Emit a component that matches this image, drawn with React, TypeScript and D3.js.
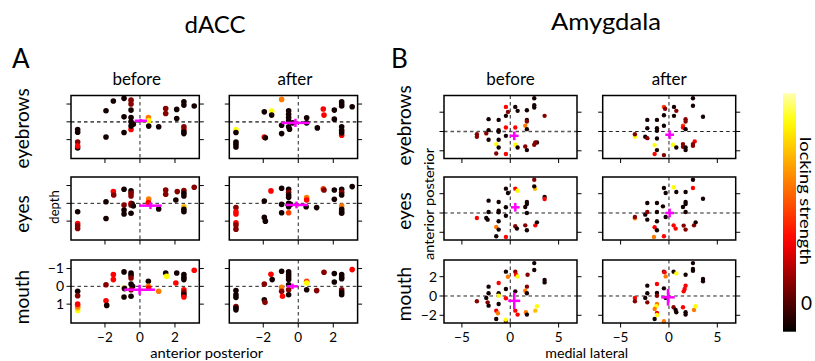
import React from "react";
import * as d3 from "d3";

type Pt = [number, number, number];
type Cross = [number, number, number, number];

// locking strength levels
const K = 0.03, D = 0.2, R = 0.38, OR = 0.5, O = 0.62, YO = 0.75, Y = 0.88;

const ROWS = ["eyebrows", "eyes", "mouth"];
const CONDITIONS = ["before", "after"];

// dACC: [anterior-posterior, depth, strength]
const dacc_eyebrows_before: Pt[] = [
  [-3.56, 0.43, K], [-3.56, 0.58, K], [-3.56, 1.13, D], [-3.56, 1.47, K], [-3.56, 1.36, R],
  [-1.94, -0.62, K], [-1.94, 0.85, K], [-1.52, -1.17, K],
  [-0.91, -1.32, K], [-0.91, -0.28, K], [-0.91, 0.6, K],
  [-0.51, 0.43, R], [-0.51, -1.22, D], [-0.51, -1.0, D], [-0.51, -0.66, K], [-0.51, -0.24, K],
  [-0.51, 0, K], [-0.51, 0.24, K], [-0.38, 0.13, K],
  [0.48, -0.24, O], [0.5, -0.06, Y], [0.5, 0.24, K], [1.07, 0.28, K],
  [1.47, -0.75, D], [1.47, -0.47, D], [2.1, -0.7, K], [2.1, -0.19, K],
  [2.51, -1.13, K], [2.51, -0.94, K], [2.51, 0.43, R], [2.51, 0.28, D], [2.51, 0.56, K], [2.51, 0.66, K],
  [3.1, -0.89, K],
];
const dacc_eyebrows_after: Pt[] = [
  [-3.56, 0.45, Y], [-3.56, 0.6, K], [-3.56, 1.13, K], [-3.56, 1.26, K], [-3.56, 1.41, K],
  [-1.94, -0.56, K], [-1.94, 0.85, R], [-1.88, 0.9, K],
  [-1.52, -0.6, Y], [-1.52, -0.38, K],
  [-0.95, -1.26, O], [-0.95, 0.19, K], [-0.95, 0.66, K],
  [-0.55, -0.62, K], [-0.55, -0.43, K], [-0.55, -0.24, K], [-0.55, -0.06, K], [-0.55, 0.28, K],
  [-0.5, 0.41, K], [-0.32, 0.06, K],
  [0.48, -0.23, K], [0.48, 0.06, K], [1.09, 0.34, K],
  [1.43, -0.72, R], [1.47, -0.38, R],
  [2.06, -0.66, K], [2.06, -0.15, K],
  [2.48, -1.13, K], [2.48, -1.0, K], [2.48, -0.89, K],
  [2.48, 0.75, R], [2.48, 0.28, K], [2.48, 0.47, K], [2.48, 0.62, K],
  [3.08, -0.85, K],
];
const dacc_eyes_before: Pt[] = [
  [-3.56, 0.47, K], [-3.56, 1.13, R], [-3.56, 1.26, D], [-3.56, 1.41, D],
  [-1.94, -0.09, K], [-1.94, 0.85, K],
  [-1.52, -0.66, R], [-1.5, -0.47, D],
  [-0.91, -0.79, K], [-0.91, 0.09, D], [-0.91, 0.38, K], [-0.91, 0.6, K],
  [-0.51, -0.7, K], [-0.51, -0.56, D], [-0.51, -0.41, D], [-0.51, 0, R], [-0.45, 0.02, K],
  [-0.51, 0.09, D], [-0.38, 0.15, K], [-0.51, 0.56, K],
  [0.5, -0.24, O], [0.48, -0.04, R],
  [1.07, 0.32, K],
  [1.47, -0.75, D], [1.47, -0.51, D],
  [2.13, -0.66, D], [2.05, -0.19, K],
  [2.51, -0.72, D], [2.51, -0.56, K], [2.51, -0.41, K],
  [2.51, 0.19, YO], [2.51, 0.34, K], [2.51, 0.47, K],
  [3.1, -0.9, D],
];
const dacc_eyes_after: Pt[] = [
  [-3.56, 0.23, D], [-3.56, 0.47, R], [-3.56, 0.6, R],
  [-3.56, 1.09, R], [-3.56, 1.22, D], [-3.56, 1.45, D],
  [-1.94, -0.13, K], [-1.94, 0.79, K], [-1.88, 1.0, K],
  [-1.56, -0.7, R],
  [-0.95, -0.85, K], [-0.95, 0.06, K], [-0.95, 0.53, K],
  [-0.55, -0.79, K], [-0.55, -0.62, D], [-0.55, -0.47, K], [-0.55, -0.34, K], [-0.55, 0, K],
  [-0.44, 0.06, K], [-0.55, 0.19, K], [-0.55, 0.53, OR],
  [0.48, -0.32, O], [0.48, -0.19, R], [0.45, 0.19, K],
  [1.05, 0.24, K],
  [1.43, -0.81, OR], [1.47, -0.75, D],
  [2.06, -0.75, K], [2.06, -0.23, K],
  [2.48, -0.79, K], [2.48, -0.62, D], [2.48, -0.47, K],
  [2.48, 0.15, O], [2.48, 0.34, K], [2.48, 0.47, K], [2.48, 0.56, K],
  [3.08, -0.94, K],
];
const dacc_mouth_before: Pt[] = [
  [-3.56, 0.28, K], [-3.56, 0.53, D],
  [-3.56, 1.36, Y], [-3.56, 1.22, YO], [-3.56, 1.13, O], [-3.56, 1.0, R],
  [-1.94, -0.09, D], [-1.94, 0.81, R], [-1.9, 1.07, K],
  [-1.52, -0.66, R], [-1.52, -0.38, R],
  [-0.91, -0.81, K], [-0.91, 0.09, YO], [-0.88, 0.13, K], [-0.91, 0.6, K],
  [-0.51, -0.75, K], [-0.51, -0.62, K], [-0.51, -0.47, D], [-0.51, -0.13, K], [-0.42, 0, K],
  [-0.51, 0.19, D], [-0.51, 0.56, K],
  [0.48, -0.28, K], [0.48, 0, O], [0.5, 0.09, R],
  [1.07, 0.28, O],
  [1.47, -0.75, K], [1.52, -0.56, Y],
  [2.1, -0.75, K], [2.05, -0.19, R],
  [2.51, -0.66, K], [2.51, -0.51, K], [2.51, -0.38, K],
  [2.51, 0.19, R], [2.51, 0.34, D], [2.51, 0.47, K], [2.51, 0.6, R],
  [3.1, -0.9, R],
];
const dacc_mouth_after: Pt[] = [
  [-3.56, 0.24, K], [-3.56, 0.47, K], [-3.56, 0.62, K],
  [-3.56, 1.13, D], [-3.56, 1.22, K], [-3.56, 1.32, K],
  [-1.94, -0.13, D], [-1.94, 0.75, K], [-1.9, 0.9, D],
  [-1.56, -0.68, R], [-1.49, -0.38, K],
  [-0.95, -0.85, K], [-0.95, 0.06, O], [-0.95, 0.28, D], [-0.9, 0.56, R],
  [-0.55, -0.81, K], [-0.55, -0.66, K], [-0.55, -0.53, K], [-0.55, -0.38, K], [-0.55, -0.09, K],
  [-0.55, 0.19, D], [-0.55, 0.47, K],
  [0.48, -0.28, OR], [0.48, -0.19, Y], [0.48, 0.19, K],
  [1.05, 0.24, D],
  [1.47, -0.79, D],
  [2.06, -0.72, K], [2.06, -0.24, K],
  [2.48, -0.66, K], [2.48, -0.53, K], [2.48, -0.43, K],
  [2.48, 0.19, D], [2.48, 0.34, K], [2.48, 0.47, K],
  [3.08, -0.94, R],
];

// Amygdala: [medial-lateral, anterior-posterior, strength]
const amyg_eyebrows_before: Pt[] = [
  [-3.45, -0.28, D], [-3.45, -0.55, D], [-2.48, -0.2, D],
  [-2.24, 1.28, K], [-2.24, 0.14, K], [-2.24, -0.86, K],
  [-1.2, 1.2, K], [-1.2, 0.14, K], [-1.2, -0.03, K], [-1.2, -0.86, K],
  [-1.45, -1.31, Y], [-1.2, -1.66, K], [-1.45, -2.28, D],
  [-0.45, 2.55, R], [-0.24, 2.03, D],
  [-0.45, 1.62, K], [-0.45, 0.41, R], [-0.45, -0.45, K], [-0.45, -2.34, R],
  [0.52, 2.55, K], [0.76, 2.14, K], [0.52, 0.41, R],
  [0.52, -1.38, Y], [0.76, -1.66, K],
  [1.72, 2.2, K], [1.72, 1.2, K], [1.72, 1.03, D],
  [1.55, 0.59, O], [1.72, 0.24, K],
  [1.55, -1.55, D], [1.72, -1.93, K],
  [2.48, 3.45, K], [2.48, 2.72, K], [2.48, 2.48, K],
  [2.76, -1.14, K], [2.59, -1.14, D], [2.48, -1.38, D],
  [3.55, 1.62, D],
];
const amyg_eyebrows_after: Pt[] = [
  [-3.52, -0.55, Y], [-3.52, -0.28, D],
  [-2.45, -0.55, K], [-2.24, -0.69, D],
  [-2.24, 1.2, K], [-2.24, 0.34, K],
  [-1.24, 1.2, K], [-1.24, 0.34, K], [-1.24, 0.07, K], [-1.24, -0.72, K],
  [-1.48, -1.41, Y], [-1.24, -1.93, K], [-1.48, -2.34, R], [-0.52, -2.45, D],
  [-0.52, 2.55, OR], [-0.4, 2.35, D],
  [-0.52, 1.69, K], [-0.52, 0.59, K],
  [0.52, 2.55, K], [0.76, 2.14, D], [0.52, 1.62, K],
  [0.41, -1.38, Y], [0.76, -1.66, K],
  [1.72, 1.28, D], [1.72, 1.03, D],
  [1.45, 0.59, OR], [1.45, 0.41, R], [1.72, 0.24, K],
  [1.45, -1.31, D], [1.45, -1.59, D],
  [1.72, -1.66, K], [1.72, -1.93, K],
  [2.48, 3.45, K], [2.48, 2.66, K],
  [2.66, -1.03, R], [2.48, -1.31, D], [2.48, -1.48, D],
  [3.52, 1.52, K],
];
const amyg_eyes_before: Pt[] = [
  [-3.45, -0.52, R],
  [-2.48, -0.52, K], [-2.34, -0.69, K],
  [-2.24, 1.28, K], [-2.24, 0.1, K],
  [-1.2, 1.14, K], [-1.2, 0.24, K], [-1.2, 0.07, K], [-1.2, -0.86, K],
  [-1.45, -1.45, O], [-1.2, -1.72, K], [-1.45, -2.41, K],
  [-0.45, 2.52, K], [-0.24, 2.07, K],
  [-0.45, 0.59, K], [-0.45, -0.28, K], [-0.45, -2.48, R],
  [0.52, 2.52, R], [0.76, 2.31, Y],
  [0.52, -1.38, D], [0.69, -1.62, K],
  [1.72, 1.14, K], [1.72, 0.93, K],
  [1.55, 0.62, K], [1.72, 0, K],
  [1.55, -1.28, D], [1.72, -1.79, K],
  [2.55, 2.5, YO], [2.48, 3.45, D], [2.48, 2.76, K],
  [2.59, -1.28, R], [2.76, -0.97, K],
  [3.55, 1.66, K], [3.55, 1.45, R],
];
const amyg_eyes_after: Pt[] = [
  [-3.52, -0.55, O], [-3.52, -0.41, D],
  [-2.45, -0.17, K], [-2.24, 0.1, D], [-2.24, -0.69, K],
  [-2.24, 1.03, K],
  [-1.24, 1.03, K], [-1.24, 0.1, K], [-1.24, -0.86, K],
  [-1.48, -1.48, R], [-1.24, -1.79, K],
  [-1.55, -2.48, O], [-0.52, -2.41, R],
  [-0.52, 2.59, K], [-0.34, 2.07, K],
  [-0.62, 0.69, K], [-0.34, -0.41, K],
  [0.48, 2.66, Y], [0.76, 2.17, K],
  [0.48, -1.28, R], [0.69, -1.62, R],
  [1.72, 2.17, K], [1.72, 1.14, K], [1.72, 0.93, K],
  [1.45, 0.62, K], [1.72, 0.1, K],
  [1.52, -1.31, D], [1.72, -1.72, D],
  [2.48, 3.45, K], [2.48, 2.59, R],
  [2.59, -1.28, D], [2.76, -0.97, K],
  [3.52, 1.48, K],
];
const amyg_mouth_before: Pt[] = [
  [-3.45, -0.55, D],
  [-2.48, -0.2, K], [-2.34, -0.66, D],
  [-2.24, 0.97, K], [-2.24, 0.28, K], [-2.24, -1.0, K],
  [-1.2, 1.34, R], [-1.2, 0.28, K], [-1.2, 0.03, Y], [-1.2, -0.83, K],
  [-1.45, -1.52, R], [-1.28, -1.79, O],
  [-1.45, -2.38, K], [-0.45, -2.6, D], [-0.45, -2.45, Y],
  [-0.45, 2.52, K], [-0.24, 2.0, O],
  [-0.45, 0.72, K], [-0.45, -0.24, R],
  [0.52, 2.52, D], [0.6, 2.2, R], [0.76, 2.03, Y],
  [0.52, 0.48, K], [0.52, -1.52, R], [0.76, -1.93, R],
  [1.79, 2.2, D], [1.72, 0.97, D], [1.55, 0.55, O], [1.72, 0.28, K],
  [1.62, -1.69, O], [1.72, -1.93, K],
  [2.48, 3.41, K], [2.48, 2.69, K],
  [2.59, -1.52, YO], [2.76, -1.07, Y],
  [3.55, 1.66, K], [3.55, 1.41, K],
];
const amyg_mouth_after: Pt[] = [
  [-3.52, -0.2, R], [-3.52, -0.55, D],
  [-2.45, -0.2, K], [-2.24, -0.66, D],
  [-2.24, 1.07, K], [-2.24, 0.28, K],
  [-1.24, 1.24, R], [-1.24, 0.31, K], [-1.24, 0.03, D],
  [-1.24, -0.83, O], [-1.3, -1.07, Y],
  [-1.48, -1.34, O], [-1.24, -1.76, R], [-1.24, -1.97, Y],
  [-1.48, -2.38, K], [-0.52, -2.62, O],
  [-0.52, 2.52, D], [-0.45, 2.45, R], [-0.34, 2.03, O],
  [-0.52, 0.79, K], [-0.34, -0.2, K],
  [0.48, 2.52, K], [0.76, 2.34, Y],
  [0.48, -1.17, D], [0.69, -1.45, K], [0.76, -1.69, K],
  [1.72, 2.2, K], [1.72, 1.07, R], [1.62, 0.72, R], [1.52, 0.48, R],
  [1.45, -1.17, R], [1.72, -1.69, K], [1.72, -1.93, K],
  [2.48, 3.41, K], [2.48, 2.79, K], [2.48, 2.62, K],
  [2.59, -1.45, O], [2.76, -1.07, Y],
  [3.52, 1.76, K], [3.52, 1.52, K],
];

// population mean +/- spread: [x, y, xerr, yerr]
const dacc_cross: Cross[][] = [
  [[0.05, -0.06, 0.35, 0.1], [-0.16, 0.06, 0.79, 0.23]],
  [[0.6, 0.13, 0.64, 0.19], [-0.1, 0.09, 0.66, 0.19]],
  [[-0.02, 0.19, 0.88, 0.28], [-0.33, 0.0, 0.33, 0.15]],
];
const amyg_cross: Cross[][] = [
  [[0.41, -0.45, 0.45, 0.45], [0.07, -0.34, 0.45, 0.45]],
  [[0.52, 0.59, 0.45, 0.45], [0.07, 0.0, 0.45, 0.45]],
  [[0.41, -0.5, 0.62, 0.85], [-0.1, -0.14, 0.7, 0.86]],
];

const dacc_points = [
  [dacc_eyebrows_before, dacc_eyebrows_after],
  [dacc_eyes_before, dacc_eyes_after],
  [dacc_mouth_before, dacc_mouth_after],
];
const amyg_points = [
  [amyg_eyebrows_before, amyg_eyebrows_after],
  [amyg_eyes_before, amyg_eyes_after],
  [amyg_mouth_before, amyg_mouth_after],
];

const dacc_xticks = [-2, 0, 2];
const dacc_yticks = [-1, 0, 1];
const amyg_xticks = [-5, 0, 5];
const amyg_yticks = [-2, 0, 2];

const FONT = "Lato, 'Open Sans', sans-serif";
const ROW_TOPS = [95.5, 177, 260];
const PANEL_H = 63;

const color = d3
  .scaleLinear<string>()
  .domain([0, 0.38, 0.88, 1])
  .range(["#000000", "#ff0000", "#ffff00", "#ffffb0"])
  .clamp(true);

const fmt = d3.format("d");

// the zero line is a heavier grey in some of the panels
const solidGray = { stroke: "#555", width: 1.6 };
const thinBlack = { stroke: "#222", width: 1 };

function Panel({ left, top, width, xDomain, yDomain, xTicks, yTicks, showX, showY, points, cross, r, hStyle }) {
  const x = d3.scaleLinear().domain(xDomain).range([left, left + width]);
  const y = d3.scaleLinear().domain(yDomain).range([top, top + PANEL_H]);
  const [cx, cy, ex, ey] = cross;
  const bottom = top + PANEL_H;
  const right = left + width;
  return (
    <g>
      <line x1={left} x2={right} y1={y(0)} y2={y(0)} stroke={hStyle.stroke} strokeWidth={hStyle.width} strokeDasharray="3.5,3" />
      <line x1={x(0)} x2={x(0)} y1={top} y2={bottom} stroke="#222" strokeDasharray="3.5,3" />
      {points.map(([px, py, v], i) => (
        <circle key={i} cx={x(px)} cy={y(py)} r={r} fill={color(v)} />
      ))}
      <g stroke="#ff00ff" strokeWidth={2.5}>
        <line x1={x(cx - ex)} x2={x(cx + ex)} y1={y(cy)} y2={y(cy)} />
        <line x1={x(cx)} x2={x(cx)} y1={y(cy - ey)} y2={y(cy + ey)} />
      </g>
      <rect x={left} y={top} width={width} height={PANEL_H} fill="none" stroke="#000" strokeWidth={1.5} />
      {yTicks.map((t) => (
        <g key={"y" + t}>
          <line x1={left - 4.5} x2={left} y1={y(t)} y2={y(t)} stroke="#000" />
          <line x1={right} x2={right + 4.5} y1={y(t)} y2={y(t)} stroke="#000" />
          {showY && (
            <text x={left - 7} y={y(t)} dy="0.35em" textAnchor="end" fontSize={14}>
              {fmt(t)}
            </text>
          )}
        </g>
      ))}
      {xTicks.map((t) => (
        <g key={"x" + t}>
          <line x1={x(t)} x2={x(t)} y1={bottom} y2={bottom + 4.5} stroke="#000" />
          {showX && (
            <text x={x(t)} y={bottom + 18.5} textAnchor="middle" fontSize={13.5}>
              {fmt(t)}
            </text>
          )}
        </g>
      ))}
    </g>
  );
}

function Region({ lefts, width, xDomain, yDomain, xTicks, yTicks, points, crosses, r, hStyles }) {
  return (
    <g>
      {ROWS.map((row, ri) =>
        CONDITIONS.map((cond, ci) => (
          <Panel
            key={row + cond}
            left={lefts[ci]}
            top={ROW_TOPS[ri]}
            width={width}
            xDomain={xDomain}
            yDomain={yDomain}
            xTicks={xTicks}
            yTicks={yTicks}
            showX={ri === 2}
            showY={ri === 2 && ci === 0}
            points={points[ri][ci]}
            cross={crosses[ri][ci]}
            r={r}
            hStyle={hStyles[ri][ci]}
          />
        ))
      )}
    </g>
  );
}

export default function App() {
  const A_LEFTS = [71, 229.3];
  const A_W = 128.3;
  const B_LEFTS = [444, 602.7];
  const B_W = 133;
  const rowLabelY = [ROW_TOPS[0] + 33, ROW_TOPS[1] + 37, ROW_TOPS[2] + 37];

  const cbTop = 93.3;
  const cbBottom = 331.7;
  const cb = d3.scaleLinear().domain([0, 1]).range([cbBottom, cbTop]);
  const stops = d3.range(0, 1.0001, 0.05);

  const aStyles = [[solidGray, solidGray], [thinBlack, thinBlack], [thinBlack, thinBlack]];
  const bStyles = [[solidGray, thinBlack], [thinBlack, thinBlack], [thinBlack, thinBlack]];

  return (
    <svg
      width={815}
      height={361}
      style={{ position: "absolute", left: 0, top: 0, background: "#fff" }}
      fontFamily={FONT}
    >
      <text x={215} y={33} textAnchor="middle" fontSize={24}>dACC</text>
      <text x={606} y={30} textAnchor="middle" fontSize={24} textLength={110} lengthAdjust="spacingAndGlyphs">Amygdala</text>
      <text x={12} y={68} fontSize={26}>A</text>
      <text x={391} y={68} fontSize={26}>B</text>

      {CONDITIONS.map((c, i) => (
        <g key={c}>
          <text x={A_LEFTS[i] + A_W / 2 + 1.5} y={85} textAnchor="middle" fontSize={17}>{c}</text>
          <text x={B_LEFTS[i] + B_W / 2} y={85} textAnchor="middle" fontSize={17}>{c}</text>
        </g>
      ))}

      {ROWS.map((row, i) => (
        <g key={row}>
          <text transform={`translate(29,${rowLabelY[i]}) rotate(-90)`} textAnchor="middle" fontSize={19}>{row}</text>
          <text transform={`translate(411,${rowLabelY[i] - 3}) rotate(-90)`} textAnchor="middle" fontSize={19}>{row}</text>
        </g>
      ))}

      <text transform="translate(59,207) rotate(-90)" textAnchor="middle" fontSize={13}>depth</text>
      <text transform="translate(434,204) rotate(-90)" textAnchor="middle" fontSize={13.5} textLength={112} lengthAdjust="spacingAndGlyphs">
        anterior posterior
      </text>
      <text x={206.7} y={358} textAnchor="middle" fontSize={13.5} textLength={113} lengthAdjust="spacingAndGlyphs">
        anterior posterior
      </text>
      <text x={586.7} y={358} textAnchor="middle" fontSize={13.5} textLength={83} lengthAdjust="spacingAndGlyphs">
        medial lateral
      </text>

      <Region
        lefts={A_LEFTS}
        width={A_W}
        xDomain={[-3.94, 3.39]}
        yDomain={[-1.48, 2.06]}
        xTicks={dacc_xticks}
        yTicks={dacc_yticks}
        points={dacc_points}
        crosses={dacc_cross}
        r={2.8}
        hStyles={aStyles}
      />
      <Region
        lefts={B_LEFTS}
        width={B_W}
        xDomain={[-6.85, 6.9]}
        yDomain={[3.73, -2.8]}
        xTicks={amyg_xticks}
        yTicks={amyg_yticks}
        points={amyg_points}
        crosses={amyg_cross}
        r={2.2}
        hStyles={bStyles}
      />

      <defs>
        <linearGradient id="hot" x1="0" y1="1" x2="0" y2="0">
          {stops.map((s) => (
            <stop key={s} offset={s} stopColor={color(s)} />
          ))}
        </linearGradient>
      </defs>
      <rect x={783} y={cbTop} width={13} height={cbBottom - cbTop} fill="url(#hot)" />
      <text x={801} y={cb(0.12)} dy="0.35em" fontSize={19}>0</text>
      <text
        transform="translate(800,201) rotate(90)"
        textAnchor="middle"
        fontSize={15.5}
        textLength={128}
        lengthAdjust="spacingAndGlyphs"
      >
        locking strength
      </text>
    </svg>
  );
}
